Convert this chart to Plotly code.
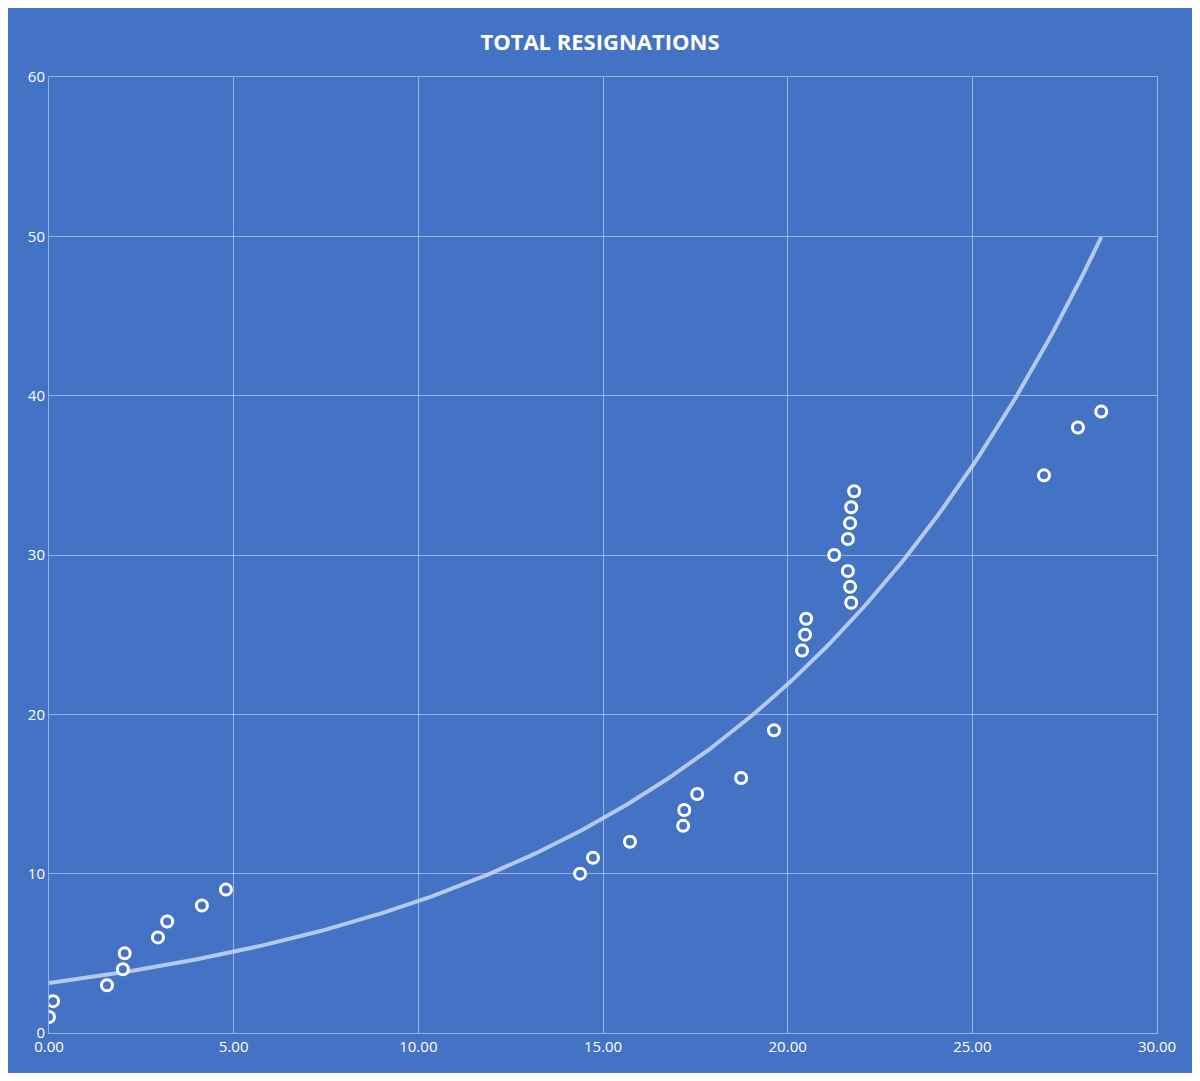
import numpy as np
import plotly.graph_objects as go

x_vals = [0.0, 0.11, 1.57, 2.0, 2.05, 2.95, 3.2, 4.14, 4.79, 14.38, 14.73, 15.73, 17.17, 17.2, 17.55,
          18.74, 19.63, 20.39, 20.47, 20.5, 21.72, 21.69, 21.63, 21.26, 21.63, 21.69, 21.72, 21.8,
          26.94, 27.86, 28.49]
y_vals = [1, 2, 3, 4, 5, 6, 7, 8, 9, 10, 11, 12, 13, 14, 15, 16, 19, 24, 25, 26, 27, 28, 29, 30,
          31, 32, 33, 34, 35, 38, 39]

# Exponential trendline (Excel-style log-linear fit)
xa = np.array(x_vals); ya = np.array(y_vals, dtype=float)
b, lna = np.polyfit(xa, np.log(ya), 1)
tx = np.linspace(0, max(x_vals), 200)
ty = np.exp(lna) * np.exp(b * tx)

fig = go.Figure()
fig.add_trace(go.Scatter(x=tx, y=ty, mode="lines",
                         line=dict(color="rgba(200,215,240,0.85)", width=4), hoverinfo="skip"))
fig.add_trace(go.Scatter(x=x_vals, y=y_vals, mode="markers",
                         marker=dict(size=11, color="#4472C4", line=dict(color="white", width=3))))

fig.update_layout(
    width=1184, height=1065, paper_bgcolor="#4472C4", plot_bgcolor="#4472C4",
    showlegend=False, margin=dict(l=41, r=35, t=69, b=40),
    title=dict(text="<b>TOTAL RESIGNATIONS</b>", x=0.5, y=0.975, xanchor="center",
               font=dict(family="Open Sans", size=22, color="white")),
    font=dict(family="Open Sans", size=15, color="white"),
)
fig.update_xaxes(range=[0, 30], dtick=5, tickformat=".2f", showgrid=True,
                 gridcolor="rgba(255,255,255,0.45)", zeroline=False, showline=True,
                 linecolor="rgba(255,255,255,0.45)", mirror=True, ticks="")
fig.update_yaxes(range=[0, 60], dtick=10, showgrid=True,
                 gridcolor="rgba(255,255,255,0.45)", zeroline=False, showline=True,
                 linecolor="rgba(255,255,255,0.45)", mirror=True, ticks="")
fig.write_html("out.html")
